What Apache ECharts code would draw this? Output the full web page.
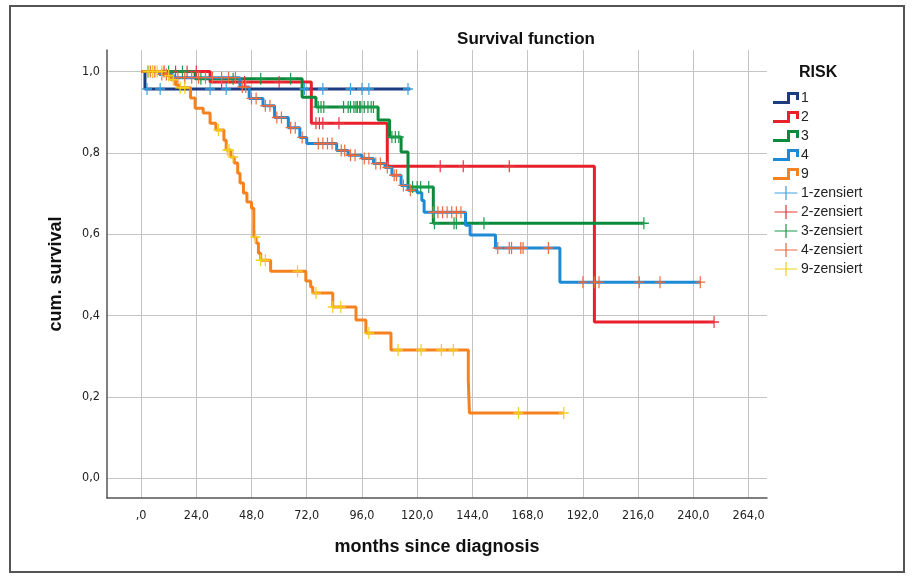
<!DOCTYPE html>
<html>
<head>
<meta charset="utf-8">
<script src="https://cdn.jsdelivr.net/npm/echarts@6/dist/echarts.min.js"></script>
<style>
html, body { margin: 0; padding: 0; background: #fff; }
#survivalChart { width: 912px; height: 576px; }
</style>
</head>
<body>
<div id="survivalChart"></div>
<script>
// tick values on both axes
var monthTicks = [0, 24, 48, 72, 96, 120, 144, 168, 192, 216, 240, 264]
var survivalTicks = [0, 0.2, 0.4, 0.6, 0.8, 1.0]

var groupNames = ['1', '2', '3', '4', '9']
var censorNames = ['1-zensiert', '2-zensiert', '3-zensiert', '4-zensiert', '9-zensiert']

// Kaplan-Meier steps: [months, cum. survival from that month on]
var risk1Steps = [[0, 1], [1.7, 0.957], [117, 0.957]]
var risk2Steps = [[0, 1], [30, 0.974], [74, 0.873], [107, 0.767], [197, 0.384], [249, 0.384]]
var risk3Steps = [[0, 1], [23.5, 0.982], [70, 0.937], [76, 0.913], [103, 0.881], [108, 0.839], [113, 0.802],
	[116, 0.716], [127, 0.627], [218.5, 0.627]]
var risk4Steps = [[0, 1], [8, 0.993], [14, 0.985], [43, 0.962], [47, 0.934], [53, 0.916], [58, 0.887], [64, 0.862],
	[69, 0.838], [72, 0.823], [85, 0.806], [90, 0.794], [96, 0.786], [101, 0.774], [106, 0.764], [109, 0.745],
	[113, 0.72], [116, 0.708], [120, 0.702], [122, 0.683], [123, 0.654], [141, 0.622], [143, 0.598], [154, 0.566],
	[182, 0.482], [243, 0.482]]
var risk9Steps = [[0, 1], [11, 0.99], [13, 0.98], [15, 0.967], [16.5, 0.96], [21.5, 0.935], [23.5, 0.91], [27, 0.898],
	[30, 0.873], [32.5, 0.856], [36, 0.831], [37, 0.807], [39, 0.79], [40.5, 0.775], [42, 0.75], [43, 0.726],
	[44.5, 0.701], [46, 0.679], [48, 0.664], [49, 0.593], [50, 0.578], [51, 0.553], [52, 0.536], [56.3, 0.509],
	[71.6, 0.485], [73.7, 0.47], [74.6, 0.455], [83.3, 0.421], [93.4, 0.389], [97.7, 0.357], [108.6, 0.315],
	[142.2, 0.241], [142.7, 0.16], [183.7, 0.16]]

// censored cases: [months, cum. survival]
var risk1Cens = [[2.6, 0.957], [8.3, 0.957], [30, 0.957], [37, 0.957], [71, 0.957], [79, 0.957], [91, 0.957],
	[96, 0.957], [99, 0.957], [116, 0.957]]
var risk2Cens = [[5, 1], [10, 1], [15, 1], [20, 1], [24, 1], [35, 0.974], [45, 0.974], [60, 0.974], [76, 0.873],
	[77.5, 0.873], [79, 0.873], [86, 0.873], [130, 0.767], [140, 0.767], [160, 0.767], [249, 0.384]]
var risk3Cens = [[3, 1], [12, 1], [18, 1], [26, 0.982], [40, 0.982], [52, 0.982], [65, 0.982], [77, 0.913],
	[78.2, 0.913], [79.4, 0.913], [88, 0.913], [90, 0.913], [91, 0.913], [92.5, 0.913], [93.4, 0.913], [94, 0.913],
	[95, 0.913], [95.5, 0.913], [97, 0.913], [98.6, 0.913], [100, 0.913], [101, 0.913], [109, 0.839], [110.5, 0.839],
	[112, 0.839], [118, 0.716], [120, 0.716], [121.5, 0.716], [125, 0.716], [127.5, 0.627], [136, 0.627],
	[137, 0.627], [149, 0.627], [218.5, 0.627]]
var risk4Cens = [[4, 1], [6, 1], [9, 0.993], [11, 0.993], [16, 0.985], [19, 0.985], [22, 0.985], [25, 0.985],
	[28, 0.985], [31, 0.985], [35, 0.985], [38, 0.985], [41, 0.985], [44, 0.962], [45.5, 0.962], [48, 0.934],
	[50, 0.934], [54, 0.916], [56, 0.916], [59, 0.887], [61, 0.887], [65, 0.862], [67, 0.862], [70, 0.838],
	[77, 0.823], [79, 0.823], [81, 0.823], [83, 0.823], [87, 0.806], [88.5, 0.806], [91, 0.794], [93, 0.794],
	[97, 0.786], [99, 0.786], [102, 0.774], [104, 0.774], [107, 0.764], [110, 0.745], [111, 0.745], [114, 0.72],
	[117, 0.708], [127, 0.654], [129, 0.654], [131, 0.654], [133, 0.654], [135, 0.654], [137, 0.654], [139, 0.654],
	[155, 0.566], [160, 0.566], [161, 0.566], [165, 0.566], [166, 0.566], [177, 0.566], [192, 0.482], [197, 0.482],
	[199, 0.482], [216.5, 0.482], [225.5, 0.482], [243, 0.482]]
var risk9Cens = [[3, 1], [5, 1], [7, 1], [9, 1], [12, 0.99], [14, 0.98], [17, 0.96], [19, 0.96], [33.6, 0.856],
	[37.5, 0.807], [38.2, 0.807], [40, 0.79], [49.7, 0.593], [52, 0.536], [54, 0.536], [68, 0.509], [76, 0.455],
	[83.3, 0.421], [86.8, 0.421], [99, 0.357], [111.7, 0.315], [121.7, 0.315], [130.5, 0.315], [135.7, 0.315],
	[164, 0.16], [183.7, 0.16]]

var stepData = [risk1Steps, risk2Steps, risk3Steps, risk4Steps, risk9Steps]
var censData = [risk1Cens, risk2Cens, risk3Cens, risk4Cens, risk9Cens]
var lineColors = ['#1b3c80', '#e8202c', '#0b8a3b', '#1e8ad6', '#f5821f']
var censColors = ['#3aa3e3', '#e8353f', '#1b9a4c', '#f2693a', '#f2d11b']

var stepIcon = 'path://M0,9 H14 V0 H26 V8 H23 V3 H17 V12 H0 Z'
var crossIcon = 'path://M0,7.3 H26 V8.7 H0 Z M12.3,0 H13.7 V16 H12.3 Z'
var crossSymbol = 'path://M0,4.4 H10 V5.6 H0 Z M4.4,0 H5.6 V10 H4.4 Z'
var narrowFont = "'Liberation Sans Narrow', 'Arial Narrow', 'DejaVu Sans Condensed', 'Liberation Sans', sans-serif"

function renderSurvivalEchart() {
	var myEchart = echarts.init(document.getElementById('survivalChart'))
	var seriesList = []
	var legendList = []
	stepData.forEach(function(item, index) {
		seriesList.push({
			name: groupNames[index],
			type: 'line',
			step: 'end',
			data: item,
			showSymbol: false,
			symbol: 'none',
			z: 2,
			lineStyle: {
				color: lineColors[index],
				width: 3
			},
			itemStyle: {
				color: lineColors[index]
			}
		})
		legendList.push({name: groupNames[index], icon: stepIcon})
	})
	censData.forEach(function(item, index) {
		seriesList.push({
			name: censorNames[index],
			type: 'scatter',
			data: item,
			symbol: crossSymbol,
			symbolSize: [10, 12],
			z: 3,
			itemStyle: {
				color: censColors[index],
				opacity: 1
			}
		})
		legendList.push({name: censorNames[index], icon: crossIcon})
	})
	var option = {
		animation: false,
		backgroundColor: '#fff',
		title: [{
			text: 'Survival function',
			left: 521,
			top: 26,
			textAlign: 'center',
			textStyle: {
				fontFamily: 'Liberation Sans',
				fontSize: 17,
				fontWeight: 'bold',
				color: '#111'
			}
		}, {
			text: 'RISK',
			left: 794,
			top: 60,
			textStyle: {
				fontFamily: 'Liberation Sans',
				fontSize: 16,
				fontWeight: 'bold',
				color: '#111'
			}
		}],
		graphic: [{
			type: 'rect',
			shape: {x: 10, y: 6, width: 894, height: 566},
			style: {fill: 'none', stroke: '#555', lineWidth: 2},
			silent: true
		}],
		legend: {
			orient: 'vertical',
			left: 768,
			top: 86,
			itemWidth: 26,
			itemHeight: 14,
			itemGap: 5,
			textStyle: {
				fontFamily: 'Liberation Sans',
				fontSize: 14,
				color: '#222',
				padding: [0, 0, 0, -3]
			},
			data: legendList
		},
		grid: {
			left: 107,
			top: 50,
			right: 145,
			bottom: 78,
			containLabel: false
		},
		xAxis: {
			type: 'value',
			min: -14.8,
			max: 272,
			name: 'months since diagnosis',
			nameLocation: 'middle',
			nameGap: 40,
			nameTextStyle: {
				fontFamily: 'Liberation Sans',
				fontSize: 18,
				fontWeight: 'bold',
				color: '#111'
			},
			axisLine: {
				show: true,
				onZero: false,
				lineStyle: {color: '#555', width: 1.5}
			},
			axisTick: {
				show: false,
				customValues: monthTicks
			},
			axisLabel: {
				customValues: monthTicks,
				margin: 11,
				fontFamily: narrowFont,
				fontSize: 12.5,
				color: '#222',
				formatter: function(value) {
					return value === 0 ? ',0' : value + ',0'
				}
			},
			splitLine: {
				show: true,
				lineStyle: {color: '#c4c4c4', width: 1}
			}
		},
		yAxis: {
			type: 'value',
			min: -0.049,
			max: 1.053,
			name: 'cum. survival',
			nameLocation: 'middle',
			nameGap: 42,
			nameRotate: 90,
			nameTextStyle: {
				fontFamily: 'Liberation Sans',
				fontSize: 18,
				fontWeight: 'bold',
				color: '#111'
			},
			axisLine: {
				show: true,
				onZero: false,
				lineStyle: {color: '#555', width: 1.5}
			},
			axisTick: {
				show: false,
				customValues: survivalTicks
			},
			axisLabel: {
				customValues: survivalTicks,
				margin: 7,
				fontFamily: narrowFont,
				fontSize: 12.5,
				color: '#222',
				formatter: function(value) {
					return value >= 1 ? '1,0' : '0,' + Math.round(value * 10)
				}
			},
			splitLine: {
				show: true,
				lineStyle: {color: '#c4c4c4', width: 1}
			}
		},
		series: seriesList
	};
	myEchart.setOption(option)
}

renderSurvivalEchart()
</script>
</body>
</html>
